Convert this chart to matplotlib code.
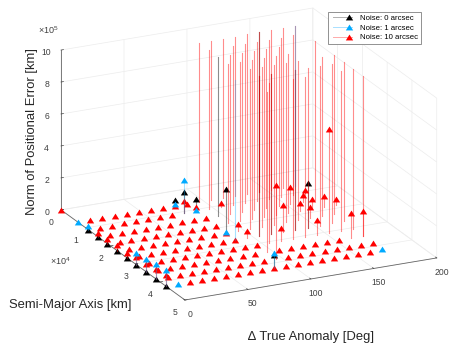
import numpy as np
import matplotlib
matplotlib.use("Agg")
import matplotlib.pyplot as plt
from matplotlib.lines import Line2D
from matplotlib.legend_handler import HandlerLine2D
from matplotlib.transforms import offset_copy

plt.rcParams['font.family'] = ['Liberation Sans', 'DejaVu Sans']
plt.rcParams['mathtext.default'] = 'regular'

# grid of the runs
sma = [7000, 10907, 14814, 18721, 22628, 26536, 30443, 34350, 38257, 42164]
ta = [0, 9.6, 19.1, 28.7, 38.3, 47.9, 57.4, 67, 76.6, 86.1, 95.7, 105.3,
      114.8, 124.4, 134, 143.6, 153.1, 162.7, 172.3, 181.8]

# error values in 1e5 km, anything above 10 runs off the top of the box
over = 20

# noise 0: (sma index, ta index, error)
black_pts = [(1, 0, 0), (2, 0, 0), (3, 0, 0), (4, 0, 0), (5, 0, 0), (6, 0, 0),
             (7, 0, 0), (8, 0, 0), (9, 0, 0), (0, 8, 0.4), (1, 8, 1.37),
             (1, 9, 0.77), (4, 9, 2.7), (9, 9, 0.8), (5, 15, 2.77),
             (2, 10, over), (0, 15, over), (5, 11, over), (5, 12, over),
             (5, 14, over)]

# noise 1
blue_pts = [(0, 0, 0.02), (1, 0, 0.23), (6, 0, 0.75), (7, 0, 0.79), (8, 0, 0.92),
            (9, 0, 0.98), (9, 1, 0), (0, 8, 0.15), (1, 8, 2.1), (1, 9, 0.08),
            (4, 9, 0.03), (9, 9, 0.9), (9, 18, 0.05), (5, 9, over), (0, 18, over)]

# noise 10, points off the floor
red_high = [(2, 0, 0.2), (3, 0, 0.27), (4, 0, 0.33), (5, 0, 0.3), (6, 0, 0.48),
            (7, 0, 0.5), (8, 0, 0.6), (9, 0, 0.65), (1, 8, 0.75), (1, 9, 0.3),
            (1, 11, 0.3), (4, 10, 0.4), (5, 10, 0.42), (8, 10, 4.6), (6, 12, 0.8),
            (5, 13, 1.65), (6, 15, 0.92), (6, 16, 6.5), (2, 16, 1.1), (2, 17, 0.46),
            (3, 16, 0.5), (3, 17, 0.65), (4, 16, 0.69), (1, 18, 0.23), (3, 18, 0.69),
            (3, 19, 0.4), (7, 17, 1.56), (7, 18, 1.54)]

# noise 10, off the top
red_over = [(0, 10), (1, 10), (0, 11), (0, 12), (3, 10), (2, 11), (1, 12), (0, 13),
            (3, 11), (2, 12), (1, 13), (0, 14), (4, 11), (3, 12), (2, 13), (1, 14),
            (4, 12), (3, 13), (2, 14), (1, 15), (0, 16), (4, 13), (3, 14), (2, 15),
            (1, 16), (0, 17), (4, 14), (3, 15), (1, 17), (4, 15), (6, 14), (5, 15),
            (2, 18), (5, 16), (4, 17), (5, 17), (4, 18), (6, 17), (5, 18), (6, 18),
            (7, 10), (6, 11), (6, 13), (5, 11), (5, 12), (5, 14), (0, 15), (0, 18),
            (7, 18)]

# no red triangle at these
red_none = [(0, 0), (1, 0), (9, 1), (9, 18), (2, 10)]

# the odd run at the origin
origin_sma = [0]
origin_ta = [0]
origin_err = [0]

z_top = 10
c_black = '#000000'
c_blue = '#00aaff'
c_red = '#ff0000'
tri = [(-1, -0.8), (1, -0.8), (0, 0.8)]
tri_ms = 5.3

fig = plt.figure(figsize=(4.59, 3.47), dpi=100)
ax = fig.add_axes([0.154, 0.0427, 0.756, 1.0], projection='3d', proj_type='ortho',
                  computed_zorder=False)
ax.view_init(elev=20.4, azim=-25.6)
ax.set_box_aspect((1.53, 1.49, 0.91), zoom=1.217)
ax.patch.set_alpha(0)


def stems(pts, color, alpha, zo):
    for i, j, z in pts:
        top = min(z, z_top)
        if top > 0.01:
            ax.plot([sma[i], sma[i]], [ta[j], ta[j]], [0, top], color=color, lw=0.8,
                    alpha=alpha, zorder=zo, clip_on=False)
    keep = [p for p in pts if p[2] <= z_top]
    ax.plot([sma[p[0]] for p in keep], [ta[p[1]] for p in keep], [p[2] for p in keep],
            ls='none', marker=tri, ms=tri_ms, mew=0, color=color, zorder=zo + 1, clip_on=False)


taken = set((p[0], p[1]) for p in red_high) | set(red_over) | set(red_none)
red_floor = [(i, j, 0) for i in range(10) for j in range(19) if (i, j) not in taken]
red_pts = red_high + [(i, j, over) for i, j in red_over] + red_floor

stems(black_pts, c_black, 0.45, 2)
stems(red_pts, c_red, 0.45, 4)
stems(blue_pts, c_blue, 0.35, 6)
ax.plot(origin_sma, origin_ta, origin_err, ls='none', marker=tri, ms=tri_ms, mew=0, color=c_red,
        zorder=8, clip_on=False)

ax.set_xlim(0, 50000)
ax.set_ylim(0, 200)
ax.set_zlim(0, 10)
ax.set_xticks([0, 10000, 20000, 30000, 40000, 50000], ['0', '1', '2', '3', '4', '5'])
ax.set_yticks([0, 50, 100, 150, 200], ['0', '50', '100', '150', '200'])
ax.set_zticks([0, 2, 4, 6, 8, 10], ['0', '2', '4', '6', '8', '10'])
ax.tick_params(labelsize=6.2, colors='#404040', pad=-3)
ax.zaxis.set_ticks_position('lower')

for axis in (ax.xaxis, ax.yaxis, ax.zaxis):
    axis.set_pane_color((1, 1, 1, 0))
    axis.pane.set_edgecolor('#ececec')
    axis.line.set_color('#666666')
    axis.line.set_linewidth(0.6)
    axis._axinfo['grid']['color'] = '#ececec'
    axis._axinfo['grid']['linewidth'] = 0.5
    axis._axinfo['tick']['color'] = '#666666'
    axis._axinfo['tick']['linewidth'] = {True: 0.5, False: 0.5}
    axis._axinfo['tick']['inward_factor'] = 0
    axis._axinfo['tick']['outward_factor'] = 0.12

# nudge the tick labels to where they sit in the original
for axis, dx, dy in ((ax.xaxis, -3, 2.5), (ax.yaxis, 7, 1.5)):
    for t in axis.get_major_ticks():
        t.label1.set_transform(offset_copy(t.label1.get_transform(), fig=fig, x=dx, y=dy,
                                           units='dots'))

txt = '#262626'
fig.text(32 / 459, 1 - 132 / 347, 'Norm of Positional Error [km]', rotation=90, fontsize=9.4,
         color=txt, ha='center', va='center')
fig.text(70 / 459, 1 - 305 / 347, 'Semi-Major Axis [km]', fontsize=9.4, color=txt, ha='center',
         va='center')
fig.text(311 / 459, 1 - 337 / 347, '\u2206 True Anomaly [Deg]', fontsize=9.4, color=txt,
         ha='center', va='center')
fig.text(48 / 459, 1 - 30 / 347, '\u00d710$^{5}$', fontsize=6.5, color='#404040', ha='center',
         va='center')
fig.text(60 / 459, 1 - 261 / 347, '\u00d710$^{4}$', fontsize=6.5, color='#404040', ha='center',
         va='center')


class MarkerNearEnd(HandlerLine2D):
    def create_artists(self, *args, **kwargs):
        artists = super().create_artists(*args, **kwargs)
        artists[-1].set_markevery([5])
        return artists


handles = [Line2D([], [], color=lc, lw=0.7, marker=tri, ms=tri_ms, mew=0, mfc=mc)
           for lc, mc in (('#b0b0b0', c_black), ('#a8e0ff', c_blue), ('#ffaaaa', c_red))]
leg = fig.legend(handles, ['Noise: 0 arcsec', 'Noise: 1 arcsec', 'Noise: 10 arcsec'],
                 loc='upper left', bbox_to_anchor=(327.7 / 459, 1 - 11.7 / 347),
                 bbox_transform=fig.transFigure, numpoints=7, fontsize=5.6, fancybox=False,
                 framealpha=1, edgecolor='#808080', borderpad=0.35, labelspacing=0.3,
                 handlelength=3.1, handletextpad=0.7, borderaxespad=0,
                 handler_map={Line2D: MarkerNearEnd(numpoints=7)})
leg.get_frame().set_linewidth(0.6)

fig.savefig('out.png', dpi=100)
